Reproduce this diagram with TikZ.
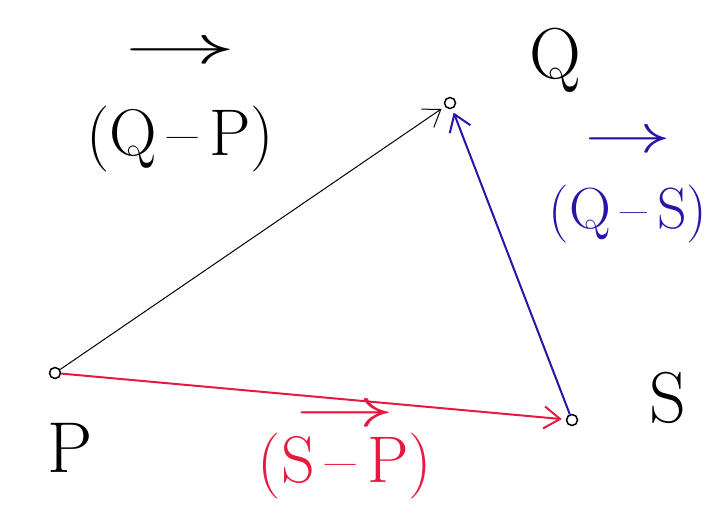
\documentclass[tikz,border=0pt]{standalone}
\usepackage{fontspec}
\usepackage{graphicx}
\usetikzlibrary{arrows.meta}
\definecolor{penblue}{RGB}{40,20,170}
\definecolor{penred}{RGB}{230,25,65}
\newcommand{\vecarrow}[1]{\scalebox{#1}[2.2]{$\rightarrow$}}
\begin{document}
\begin{tikzpicture}[
      x=1pt, y=-1pt,
      pt/.style={circle, draw, line width=1.5pt, inner sep=0pt, minimum size=11pt, fill=white},
      lbl/.style={font=\fontsize{72}{80}\selectfont, inner sep=0pt},
      vec/.style={align=center, inner sep=0pt, font=\fontsize{66}{70}\selectfont},
      arrow/.style={-{Straight Barb[length=16pt, width=22pt]}, line width=2pt, shorten >=4pt}
  ]
  \useasboundingbox (0,0) rectangle (713,517);

  % Points
  \node[pt] (p) at (55,373) {};
  \node[pt] (q) at (450,103) {};
  \node[pt] (s) at (572,420) {};

  % Point labels
  \node[lbl] (plab) at (70,448) {P};
  \node[lbl] (qlab) at (555,60) {Q};
  \node[lbl] (slab) at (668,398) {S};

  % Vector labels
  \node[vec] (qp) at (180,108) {\vecarrow{4.5}\\[22pt](Q\,--\,P)};
  \node[vec, text=penblue, font=\fontsize{58}{64}\selectfont] (qs) at (628,188) {\vecarrow{3.5}\\[12pt](Q\,--\,S)};
  \node[vec, text=penred] (sp) at (345,453) {\vecarrow{4}\\[-14pt](S\,--\,P)};

  % Arrows
  \draw[arrow, line width=1pt] (p) -- (q);
  \draw[arrow, penblue] (s) -- (q);
  \draw[arrow, penred] (p) -- (s);

  \end{tikzpicture}
\end{document}
